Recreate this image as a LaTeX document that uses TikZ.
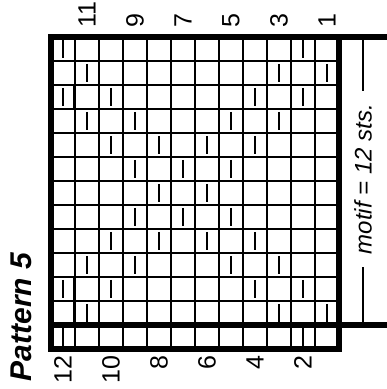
\documentclass[tikz,border=0pt]{standalone}
\usepackage{fontspec}
\setmainfont{Liberation Sans}
\begin{document}
\begin{tikzpicture}[x=24pt, y=-24pt,
    rownum/.style={font=\fontsize{25}{25}\selectfont, rotate=90, inner sep=0pt},
    gridline/.style={line width=1.2pt},
    purl/.style={line width=1.4pt},
    heavy/.style={line width=6pt}]
  \useasboundingbox (-2.125,-1.542) rectangle (14,14.667);
  % chart grid
  \foreach \i in {1,...,11} \draw[gridline] (\i,0) -- (\i,13);
  \foreach \j in {1,...,11} \draw[gridline] (0,\j) -- (12,\j);
  \draw[line width=3pt] (1,2) -- (1,3);
  \draw[line width=3pt] (1,10) -- (1,12);
  % purl marks, row by row
  \foreach \r/\cols in {1/{1,11}, 2/{2,10,12}, 3/{1,3,9,11}, 4/{2,4,8,10},
      5/{3,5,7,9}, 6/{4,6,8}, 7/{5,7}, 8/{4,6,8}, 9/{3,5,7,9},
      10/{2,4,8,10}, 11/{1,3,9,11}, 12/{2,10,12}} {
    \foreach \c in \cols \draw[purl] (\c-0.5,\r-0.88) -- (\c-0.5,\r-0.12);
  }
  \draw[gridline] (0.5,12) -- (0.5,13);
  \draw[gridline] (10.5,12) -- (10.5,13);
  % frame
  \draw[heavy] (0,0) rectangle (12,13);
  \draw[heavy] (12,0) -- (14,0);
  \draw[heavy] (0,12) -- (14,12);
  % row numbers
  \foreach \c/\n in {2/11, 4/9, 6/7, 8/5, 10/3, 12/1}
    \node[rownum, anchor=west] (odd\n) at (\c-0.5,-0.38) {\n};
  \foreach \c/\n in {1/12, 3/10, 5/8, 7/6, 9/4, 11/2}
    \node[rownum, anchor=east] (even\n) at (\c-0.5,13.28) {\n};
  \node[font=\fontsize{30}{30}\selectfont\bfseries\itshape, rotate=90, inner sep=0pt] (title) at (-1.23,11.67) {Pattern 5};
  % repeat bracket
  \node[font=\fontsize{24}{24}\selectfont\itshape, rotate=90, inner xsep=13pt, inner ysep=0pt] (motif) at (13,5.92) {motif = 12 sts.};
  \coordinate (mtop) at (13,0);
  \coordinate (mbot) at (13,12);
  \draw[gridline] (mtop) -- (motif.east);
  \draw[gridline] (motif.west) -- (mbot);
\end{tikzpicture}
\end{document}
